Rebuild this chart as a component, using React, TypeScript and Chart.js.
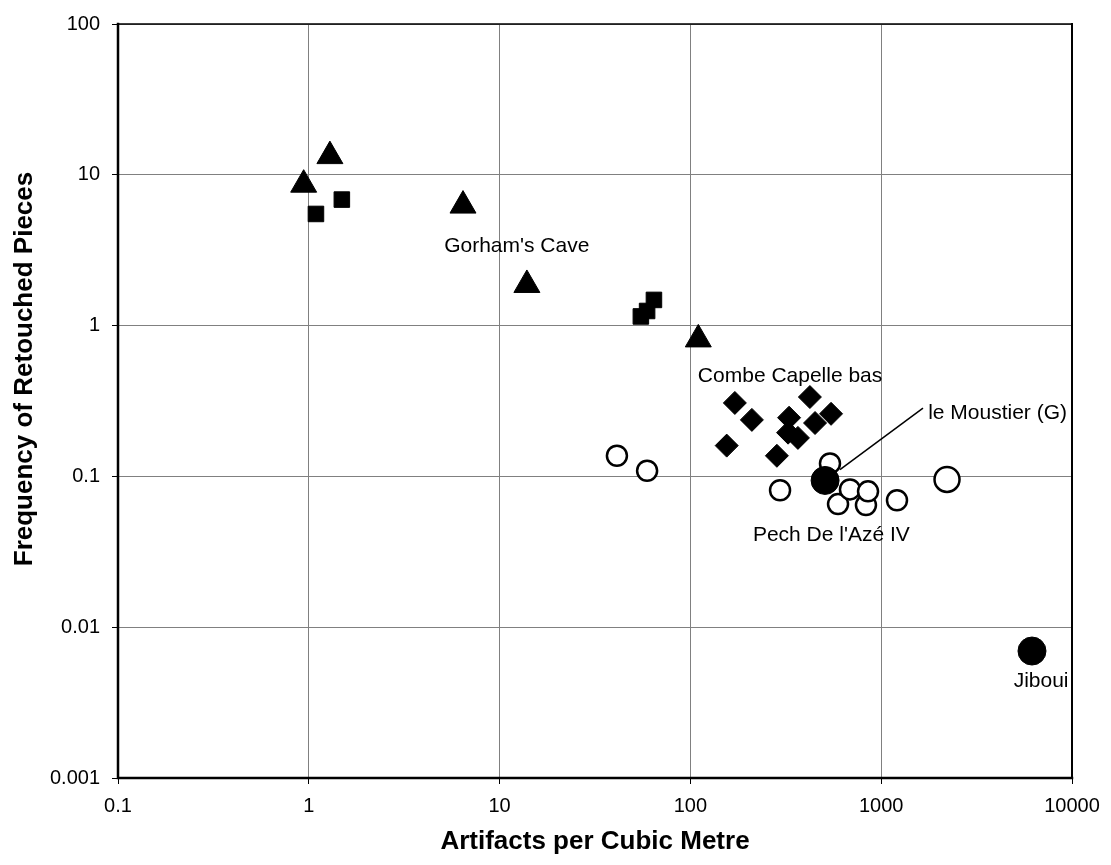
import React, { useEffect, useRef } from 'react';
import { Chart, registerables } from 'chart.js';

Chart.register(...registerables);

// ---- Axis ticks ----
const X_TICKS = [0.1, 1, 10, 100, 1000, 10000];
const X_TICK_LABELS = ['0.1', '1', '10', '100', '1000', '10000'];
const Y_TICKS = [0.001, 0.01, 0.1, 1, 10, 100];
const Y_TICK_LABELS = ['0.001', '0.01', '0.1', '1', '10', '100'];

const X_TITLE = 'Artifacts per Cubic Metre';
const Y_TITLE = 'Frequency of Retouched Pieces';

// ---- Series ----
const TRIANGLE_X = [0.94, 1.29, 6.43, 13.9, 110];
const TRIANGLE_Y = [8.6, 13.3, 6.25, 1.86, 0.81];

const SQUARE_X = [1.09, 1.49, 55, 59.3, 64.4];
const SQUARE_Y = [5.5, 6.85, 1.15, 1.25, 1.48];

const DIAMOND_X = [155, 171, 210, 284, 325, 329, 366, 423, 450, 546];
const DIAMOND_Y = [0.16, 0.307, 0.237, 0.137, 0.195, 0.245, 0.18, 0.336, 0.226, 0.26];

const OPEN_X = [41.2, 59.3, 295, 539, 594, 686, 832, 853, 1210];
const OPEN_Y = [0.137, 0.109, 0.081, 0.122, 0.0655, 0.082, 0.0645, 0.0796, 0.0695];

const OPEN_LARGE_X = [2213];
const OPEN_LARGE_Y = [0.0955];

const FILLED_X = [508, 6170];
const FILLED_Y = [0.094, 0.00695];

// ---- Annotations ----
const LABEL_TEXTS = ["Gorham's Cave", 'Combe Capelle bas', 'le Moustier (G)', "Pech De l'Azé IV", 'Jiboui'];
const LABEL_X = [12.3, 333, 4074, 548, 6887];
const LABEL_Y = [3.36, 0.461, 0.264, 0.0409, 0.00441];

const LEADER_X = [608, 1656];
const LEADER_Y = [0.111, 0.284];

const FONT = '"Liberation Sans", Arial, Helvetica, sans-serif';

const toPoints = (xs: number[], ys: number[]) => xs.map((x, i) => ({ x, y: ys[i] }));

const annotationPlugin = {
  id: 'annotations',
  afterDatasetsDraw(chart: any) {
    const { ctx, scales } = chart;
    const xs = scales.x;
    const ys = scales.y;
    ctx.save();
    // leader line
    ctx.strokeStyle = '#000';
    ctx.lineWidth = 1.5;
    ctx.beginPath();
    ctx.moveTo(xs.getPixelForValue(LEADER_X[0]), ys.getPixelForValue(LEADER_Y[0]));
    ctx.lineTo(xs.getPixelForValue(LEADER_X[1]), ys.getPixelForValue(LEADER_Y[1]));
    ctx.stroke();
    // labels
    ctx.fillStyle = '#000';
    ctx.font = `21px ${FONT}`;
    ctx.textAlign = 'center';
    ctx.textBaseline = 'middle';
    LABEL_TEXTS.forEach((t, i) => {
      ctx.fillText(t, xs.getPixelForValue(LABEL_X[i]), ys.getPixelForValue(LABEL_Y[i]));
    });
    ctx.restore();
  },
  afterDraw(chart: any) {
    const { ctx, chartArea: a } = chart;
    ctx.save();
    ctx.strokeStyle = '#000';
    ctx.lineCap = 'square';
    // top & right
    ctx.lineWidth = 1.5;
    ctx.beginPath();
    ctx.moveTo(a.left, a.top);
    ctx.lineTo(a.right, a.top);
    ctx.stroke();
    ctx.lineWidth = 2;
    ctx.beginPath();
    ctx.moveTo(a.right, a.top);
    ctx.lineTo(a.right, a.bottom);
    ctx.stroke();
    // left & bottom
    ctx.lineWidth = 2.5;
    ctx.beginPath();
    ctx.moveTo(a.left, a.top);
    ctx.lineTo(a.left, a.bottom);
    ctx.lineTo(a.right, a.bottom);
    ctx.stroke();
    // axis titles
    ctx.fillStyle = '#000';
    ctx.font = `bold 26px ${FONT}`;
    ctx.textAlign = 'center';
    ctx.textBaseline = 'middle';
    ctx.fillText(X_TITLE, (a.left + a.right) / 2, 842);
    ctx.translate(25, 369);
    ctx.rotate(-Math.PI / 2);
    ctx.fillText(Y_TITLE, 0, 0);
    ctx.restore();
  },
};

export default function App() {
  const ref = useRef<HTMLCanvasElement | null>(null);

  useEffect(() => {
    document.body.style.margin = '0';
    const canvas = ref.current;
    if (!canvas) return;
    const markerCommon = { showLine: false };
    const chart = new Chart(canvas, {
      type: 'scatter',
      data: {
        datasets: [
          {
            label: 'filled',
            data: toPoints(FILLED_X, FILLED_Y),
            pointStyle: 'circle',
            pointRadius: 14,
            pointHoverRadius: 14,
            backgroundColor: '#000',
            borderColor: '#000',
            borderWidth: 1,
            ...markerCommon,
          },
          {
            label: 'openLarge',
            data: toPoints(OPEN_LARGE_X, OPEN_LARGE_Y),
            pointStyle: 'circle',
            pointRadius: 12.5,
            pointHoverRadius: 12.5,
            backgroundColor: '#fff',
            borderColor: '#000',
            borderWidth: 2.5,
            ...markerCommon,
          },
          {
            label: 'open',
            data: toPoints(OPEN_X, OPEN_Y),
            pointStyle: 'circle',
            pointRadius: 10,
            pointHoverRadius: 10,
            backgroundColor: '#fff',
            borderColor: '#000',
            borderWidth: 2.5,
            ...markerCommon,
          },
          {
            label: 'diamonds',
            data: toPoints(DIAMOND_X, DIAMOND_Y),
            pointStyle: 'rectRot',
            pointRadius: 11.5,
            pointHoverRadius: 11.5,
            backgroundColor: '#000',
            borderColor: '#000',
            borderWidth: 1,
            ...markerCommon,
          },
          {
            label: 'squares',
            data: toPoints(SQUARE_X, SQUARE_Y),
            pointStyle: 'rect',
            pointRadius: 11,
            pointHoverRadius: 11,
            backgroundColor: '#000',
            borderColor: '#000',
            borderWidth: 1,
            ...markerCommon,
          },
          {
            label: 'triangles',
            data: toPoints(TRIANGLE_X, TRIANGLE_Y),
            pointStyle: 'triangle',
            pointRadius: 15,
            pointHoverRadius: 15,
            backgroundColor: '#000',
            borderColor: '#000',
            borderWidth: 1,
            ...markerCommon,
          },
        ],
      },
      options: {
        responsive: false,
        animation: false,
        events: [],
        layout: { padding: { top: 18, right: 39, bottom: 0, left: 0 } },
        plugins: {
          legend: { display: false },
          tooltip: { enabled: false },
          title: { display: false },
        },
        scales: {
          x: {
            type: 'logarithmic',
            min: 0.1,
            max: 10000,
            afterBuildTicks: (s: any) => {
              s.ticks = X_TICKS.map((v) => ({ value: v }));
            },
            afterFit: (s: any) => {
              s.height = 87;
            },
            ticks: {
              autoSkip: false,
              maxRotation: 0,
              padding: 10,
              color: '#000',
              font: { family: FONT, size: 20 },
              callback: (v: any) => {
                const i = X_TICKS.indexOf(Number(v));
                return i >= 0 ? X_TICK_LABELS[i] : '';
              },
            },
            grid: { color: '#808080', lineWidth: 1, tickLength: 6, drawTicks: true, tickColor: '#000' },
            border: { display: false },
          },
          y: {
            type: 'logarithmic',
            min: 0.001,
            max: 100,
            afterBuildTicks: (s: any) => {
              s.ticks = Y_TICKS.map((v) => ({ value: v }));
            },
            afterFit: (s: any) => {
              s.width = 118;
            },
            ticks: {
              autoSkip: false,
              padding: 12,
              color: '#000',
              font: { family: FONT, size: 20 },
              callback: (v: any) => {
                const i = Y_TICKS.indexOf(Number(v));
                return i >= 0 ? Y_TICK_LABELS[i] : '';
              },
            },
            grid: { color: '#808080', lineWidth: 1, tickLength: 6, drawTicks: true, tickColor: '#000' },
            border: { display: false },
          },
        },
      },
      plugins: [annotationPlugin],
    } as any);
    return () => chart.destroy();
  }, []);

  return (
    <div style={{ width: 1111, height: 865, background: '#fff' }}>
      <canvas ref={ref} width={1111} height={865} style={{ display: 'block' }} />
    </div>
  );
}
